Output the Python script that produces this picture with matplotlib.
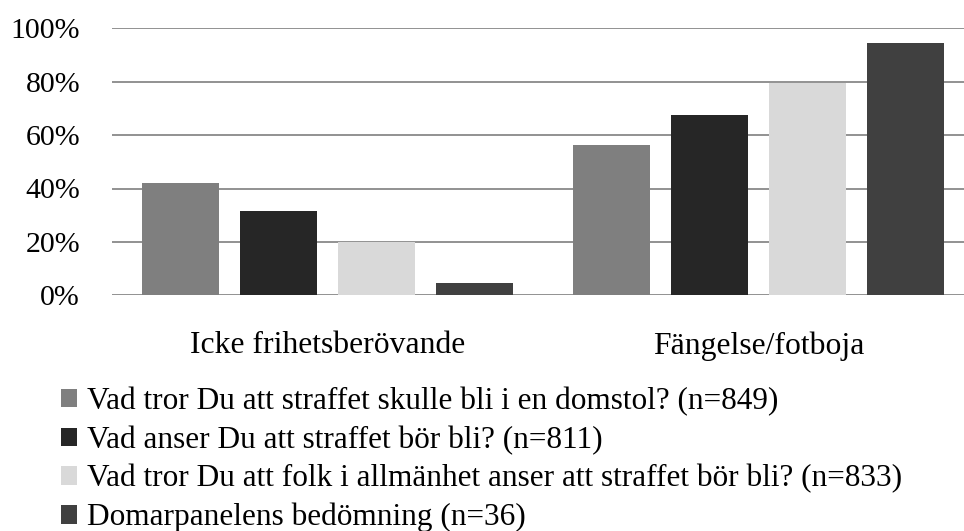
import matplotlib
matplotlib.use("Agg")
import matplotlib.pyplot as plt
import numpy as np

# andel (%) per kategori och fråga
kategorier = ["Icke frihetsberövande", "Fängelse/fotboja"]
serier = [
    "Vad tror Du att straffet skulle bli i en domstol? (n=849)",
    "Vad anser Du att straffet bör bli? (n=811)",
    "Vad tror Du att folk i allmänhet anser att straffet bör bli? (n=833)",
    "Domarpanelens bedömning (n=36)",
]
domstol = [42.0, 56.2]
anser = [31.6, 67.4]
allmanhet = [19.8, 79.4]
domarpanel = [4.6, 94.4]
farger = ["#7f7f7f", "#262626", "#d9d9d9", "#404040"]

plt.rcParams["font.family"] = ["Liberation Serif", "DejaVu Serif"]


def main():
    fig = plt.figure(figsize=(9.64, 5.31), dpi=100)
    ax = fig.add_axes([112 / 964, 1 - 295.3 / 531, 862 / 964, 267 / 531])

    x = np.arange(len(kategorier))
    bredd, steg = 0.18, 0.2274
    for i, (vals, namn, c) in enumerate(zip([domstol, anser, allmanhet, domarpanel], serier, farger)):
        ax.bar(x + (i - 1.5) * steg, [v / 100 for v in vals], bredd, color=c, label=namn, zorder=3)

    ax.set_xlim(-0.5, 1.5)
    ax.set_ylim(0, 1)
    ax.set_yticks(np.linspace(0, 1, 6))
    ax.set_yticklabels([f"{int(round(t * 100))}%" for t in np.linspace(0, 1, 6)], fontsize=21.5)
    ax.set_xticks(x)
    ax.set_xticklabels(kategorier, fontsize=22.8)
    ax.tick_params(axis="y", length=0, pad=23)
    ax.tick_params(axis="x", length=0, pad=26)
    ax.yaxis.grid(True, color="#898989", lw=1.3, zorder=0)
    ax.set_axisbelow(True)
    for s in ax.spines.values():
        s.set_visible(False)

    h, l = ax.get_legend_handles_labels()
    fig.legend(h, l, loc="upper left", bbox_to_anchor=(61 / 964, 1 - 387 / 531),
               frameon=False, fontsize=22.5, borderpad=0, borderaxespad=0,
               handlelength=0.52, handleheight=0.52, handletextpad=0.32,
               labelspacing=0.30)

    fig.savefig("out.png", dpi=100)


if __name__ == "__main__":
    main()
